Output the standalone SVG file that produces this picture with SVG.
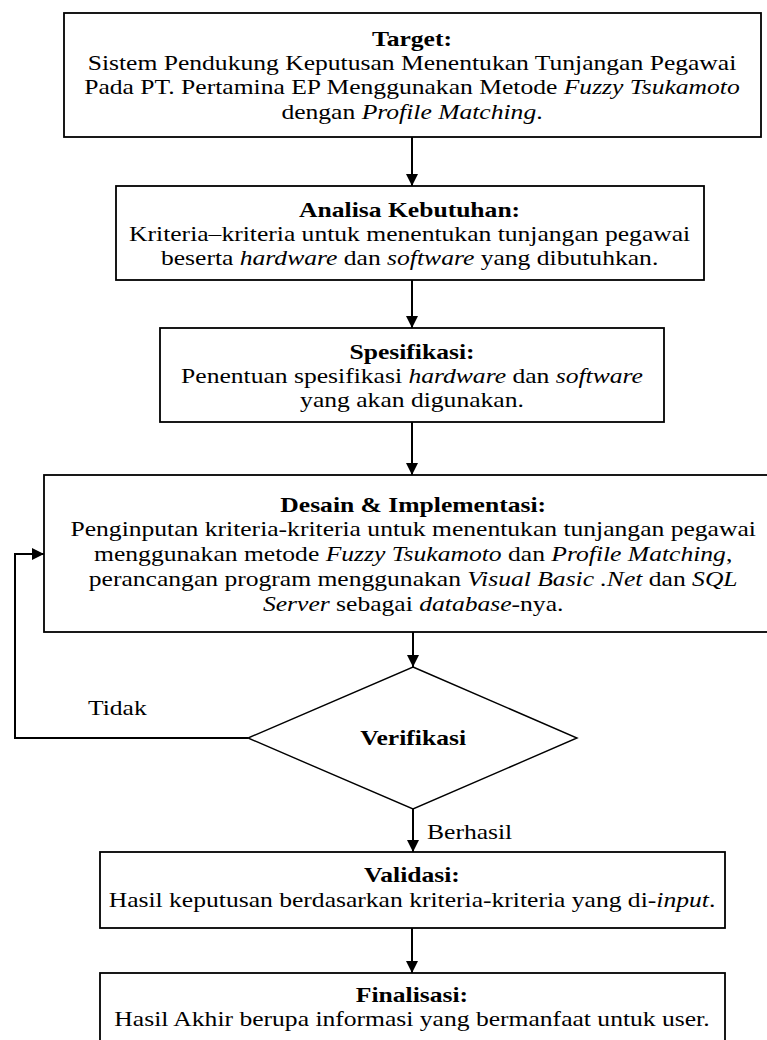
<svg xmlns="http://www.w3.org/2000/svg" width="767" height="1040" viewBox="0 0 767 1040">
<style>
.box{fill:#fff;stroke:#000;stroke-width:1.8}
.dia{fill:#fff;stroke:#000;stroke-width:1.4}
.t{font-family:"Liberation Serif","Times New Roman",serif;font-size:21.5px;fill:#000;text-anchor:middle}
.b{font-weight:bold}
.i{font-style:italic}
.s{text-anchor:start}
.c{fill:none;stroke:#000;stroke-width:2}
</style>
<defs>
<marker id="ah" viewBox="0 0 12 12" refX="12" refY="6" markerWidth="12" markerHeight="12" markerUnits="userSpaceOnUse" orient="auto"><path d="M0,0 L12,6 L0,12 z" fill="#000"/></marker>
</defs>
<g id="connectors">
<line class="c" x1="412" y1="137" x2="412" y2="186" marker-end="url(#ah)"/>
<line class="c" x1="412" y1="280" x2="412" y2="328" marker-end="url(#ah)"/>
<line class="c" x1="412" y1="422" x2="412" y2="475" marker-end="url(#ah)"/>
<line class="c" x1="413" y1="632" x2="413" y2="667" marker-end="url(#ah)"/>
<line class="c" x1="413" y1="809" x2="413" y2="852" marker-end="url(#ah)"/>
<line class="c" x1="412" y1="928" x2="412" y2="973" marker-end="url(#ah)"/>
<polyline class="c" points="248,738 15,738 15,554 44,554" marker-end="url(#ah)"/>
<g transform="matrix(1.19 0 0 1 -78.28 0)">
<text class="t s" x="139.7" y="715">Tidak</text>
<text class="t s" x="424.6" y="839">Berhasil</text>
</g>
</g>
<g id="target">
<rect class="box" x="64" y="13" width="697" height="124"/>
<g transform="matrix(1.19 0 0 1 -78.28 0)">
<text class="t b" x="412" y="46">Target:</text>
<text class="t" x="412" y="70">Sistem Pendukung Keputusan Menentukan Tunjangan Pegawai</text>
<text class="t" x="412" y="94">Pada PT. Pertamina EP Menggunakan Metode <tspan class="i">Fuzzy Tsukamoto</tspan></text>
<text class="t" x="412" y="119">dengan <tspan class="i">Profile Matching</tspan>.</text>
</g>
</g>
<g id="analisa">
<rect class="box" x="116" y="186" width="588" height="94"/>
<g transform="matrix(1.19 0 0 1 -78.28 0)">
<text class="t b" x="410" y="217">Analisa Kebutuhan:</text>
<text class="t" x="410" y="241">Kriteria–kriteria untuk menentukan tunjangan pegawai</text>
<text class="t" x="410" y="265">beserta <tspan class="i">hardware</tspan> dan <tspan class="i">software</tspan> yang dibutuhkan.</text>
</g>
</g>
<g id="spesifikasi">
<rect class="box" x="160" y="328" width="504" height="94"/>
<g transform="matrix(1.19 0 0 1 -78.28 0)">
<text class="t b" x="412" y="359">Spesifikasi:</text>
<text class="t" x="412" y="383">Penentuan spesifikasi <tspan class="i">hardware</tspan> dan <tspan class="i">software</tspan></text>
<text class="t" x="412" y="407">yang akan digunakan.</text>
</g>
</g>
<g id="desain">
<rect class="box" x="44" y="475" width="760" height="157"/>
<g transform="matrix(1.19 0 0 1 -78.28 0)">
<text class="t b" x="413" y="512">Desain &amp; Implementasi:</text>
<text class="t" x="413" y="536">Penginputan kriteria-kriteria untuk menentukan tunjangan pegawai</text>
<text class="t" x="413" y="561">menggunakan metode <tspan class="i">Fuzzy Tsukamoto</tspan> dan <tspan class="i">Profile Matching</tspan>,</text>
<text class="t" x="413" y="586">perancangan program menggunakan <tspan class="i">Visual Basic .Net</tspan> dan <tspan class="i">SQL</tspan></text>
<text class="t" x="413" y="611"><tspan class="i">Server</tspan> sebagai <tspan class="i">database</tspan>-nya.</text>
</g>
</g>
<g id="verifikasi">
<polygon class="dia" points="413,667 577,738 413,809 248,738"/>
<g transform="matrix(1.19 0 0 1 -78.28 0)">
<text class="t b" x="413" y="745">Verifikasi</text>
</g>
</g>
<g id="validasi">
<rect class="box" x="100" y="852" width="625" height="76"/>
<g transform="matrix(1.19 0 0 1 -78.28 0)">
<text class="t b" x="412" y="882">Validasi:</text>
<text class="t" x="412" y="907">Hasil keputusan berdasarkan kriteria-kriteria yang di-<tspan class="i">input</tspan>.</text>
</g>
</g>
<g id="finalisasi">
<rect class="box" x="100" y="973" width="625" height="80"/>
<g transform="matrix(1.19 0 0 1 -78.28 0)">
<text class="t b" x="412" y="1002">Finalisasi:</text>
<text class="t" x="412" y="1026">Hasil Akhir berupa informasi yang bermanfaat untuk user.</text>
</g>
</g>
</svg>
